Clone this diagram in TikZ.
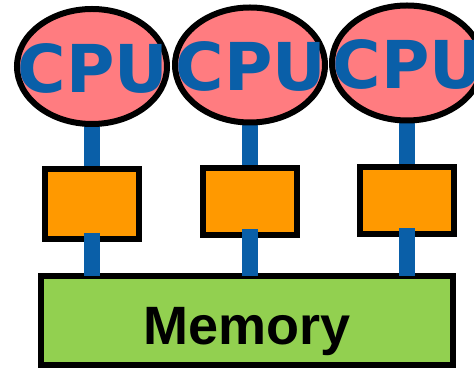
\documentclass[tikz,border=0pt]{standalone}
\usepackage{fontspec}
\setmainfont{Liberation Sans}
\newfontfamily\cpufont{DejaVu Sans}
\usetikzlibrary{shapes.geometric,backgrounds}
\definecolor{cpupink}{HTML}{FF7C80}
\definecolor{cpublue}{HTML}{0A5FA8}
\definecolor{cacheorange}{HTML}{FF9900}
\definecolor{memgreen}{HTML}{92D050}
\tikzset{
  cpu/.style={ellipse, draw=black, fill=cpupink, line width=6pt, inner sep=0pt, outer sep=0pt, minimum width=150pt, minimum height=115pt},
  cputext/.style={anchor=base, inner sep=0pt, text=cpublue, font=\cpufont\bfseries\fontsize{66}{66}\selectfont},
  cachebox/.style={rectangle, draw=black, fill=cacheorange, line width=6pt, inner sep=0pt, outer sep=0pt, minimum width=94pt},
  membox/.style={rectangle, draw=black, fill=memgreen, line width=6pt, inner sep=0pt, outer sep=0pt, minimum width=412pt, minimum height=89pt},
  memtext/.style={anchor=base, inner sep=0pt, font=\bfseries\fontsize{54}{54}\selectfont},
  bus/.style={draw=cpublue, line width=16pt}
}
\begin{document}
\begin{tikzpicture}[x=1pt,y=1pt]
\useasboundingbox (0,0) rectangle (474,369);
% CPUs
\node[cpu] (c1) at (92,302.5) {};
\node[cpu] (c2) at (250,304) {};
\node[cpu] (c3) at (407,306) {};
\node[cputext] (t1) at (93,276) {CPU};
\node[cputext] (t2) at (251,278) {CPU};
\node[cputext] (t3) at (408,280) {CPU};
% caches
\node[cachebox, minimum height=70pt] (o1) at (92,165) {};
\node[cachebox, minimum height=67pt] (o2) at (250,167.5) {};
\node[cachebox, minimum height=67pt] (o3) at (407,168.5) {};
% memory
\node[membox] (m) at (247,48.5) {};
\node[memtext] (mt) at (247.5,24) {Memory};
% upper buses (behind)
\begin{scope}[on background layer]
\draw[bus] (c1.center) -- (o1.center);
\draw[bus] (c2.center) -- (o2.center);
\draw[bus] (c3.center) -- (o3.center);
\end{scope}
% lower buses
\draw[bus] ([yshift=6pt]o1.south) -- (o1.south |- m.north);
\draw[bus] ([yshift=6pt]o2.south) -- (o2.south |- m.north);
\draw[bus] ([yshift=6pt]o3.south) -- (o3.south |- m.north);
\end{tikzpicture}
\end{document}
